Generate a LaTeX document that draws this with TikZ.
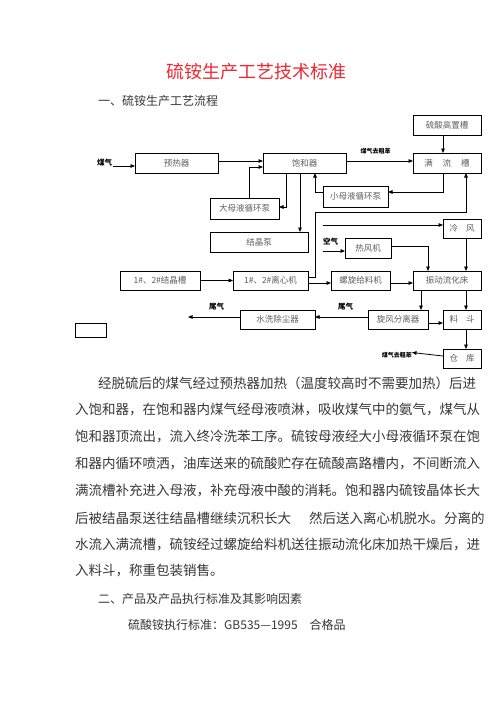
\documentclass[tikz,border=0pt]{standalone}
\usepackage{fontspec}
\setmainfont{Liberation Serif}
\newfontfamily\cjk{Noto Sans CJK SC}
\usetikzlibrary{arrows.meta}
\definecolor{titlered}{RGB}{240,40,50}
\definecolor{boxtext}{RGB}{95,95,95}
\definecolor{bodytext}{RGB}{55,55,55}
\begin{document}
\begin{tikzpicture}[x=1pt,y=-1pt,
  box/.style={draw, line width=0.8pt, inner sep=0pt, outer sep=0pt, text=boxtext, font=\cjk\fontsize{8.5}{10}\selectfont},
  arr/.style={line width=0.8pt, -{Triangle[length=4.5pt,width=3.6pt]}},
  lab/.style={inner sep=0pt, font=\cjk\bfseries\fontsize{7.5}{9}\selectfont},
  labs/.style={inner sep=0pt, font=\cjk\bfseries\fontsize{6}{7}\selectfont},
  body/.style={anchor=west, inner sep=0pt, text=bodytext, font=\cjk\fontsize{13.5}{16}\selectfont},
  head/.style={anchor=west, inner sep=0pt, text=bodytext, font=\cjk\fontsize{12}{14}\selectfont}]
\fill[white] (0,0) rectangle (496,702);
\path[use as bounding box] (0,0) rectangle (496,702);

% title and heading
\node[inner sep=0pt, text=titlered, font=\cjk\fontsize{18}{20}\selectfont] (title) at (256.5,72) {硫铵生产工艺技术标准};
\node[head] (h1) at (98,101) {一、硫铵生产工艺流程};

% boxes
\node[box, minimum width=68pt, minimum height=20pt] (gaozhi) at (447,125) {硫酸高置槽};
\node[box, minimum width=68pt, minimum height=20pt] (manliu) at (447,163) {满\hspace{10pt}流\hspace{10pt}槽};
\node[box, minimum width=83pt, minimum height=20pt] (baohe) at (304.5,163) {饱和器};
\node[box, minimum width=83pt, minimum height=20pt] (yure) at (176.5,163) {预热器};
\node[box, minimum width=69pt, minimum height=21pt] (damu) at (244.5,208.5) {大母液循环泵};
\node[box, minimum width=98pt, minimum height=20pt] (jingbeng) at (259,242) {结晶泵};
\node[box, minimum width=65pt, minimum height=21pt] (xiaomu) at (355.5,196.5) {小母液循环泵};
\node[box, minimum width=38pt, minimum height=19pt] (lengfeng) at (462,228.5) {冷\hspace{8pt}风};
\node[box, minimum width=46pt, minimum height=20pt] (refeng) at (368,248) {热风机};
\node[box, minimum width=80pt, minimum height=19pt] (jjc) at (160,280.5) {1\#、2\#结晶槽};
\node[box, minimum width=75pt, minimum height=19pt] (lxj) at (270.5,280.5) {1\#、2\#离心机};
\node[box, minimum width=59pt, minimum height=19pt] (lx) at (360.5,280.5) {螺旋给料机};
\node[box, minimum width=68pt, minimum height=19pt] (zd) at (447,280.5) {振动流化床};
\node[box, minimum width=75pt, minimum height=19pt] (sx) at (277.5,319.5) {水洗除尘器};
\node[box, minimum width=60pt, minimum height=19pt] (xf) at (398,319.5) {旋风分离器};
\node[box, minimum width=38pt, minimum height=19pt] (ld) at (462,319.5) {料\hspace{8pt}斗};
\node[box, minimum width=38pt, minimum height=19pt] (ck) at (462,358.5) {仓\hspace{8pt}库};
\node[box, minimum width=31pt, minimum height=14pt] (empty) at (90.5,330) {};

% labels
\node[lab] (mq) at (104.5,163) {煤气};
\node[labs] (mqc1) at (375.5,151) {煤气去粗苯};
\node[lab] (kq) at (330.5,242) {空气};
\node[lab] (wq1) at (345.5,307) {尾气};
\node[lab] (wq2) at (216.5,307) {尾气};
\node[labs, anchor=east] (mqc2) at (412,355) {煤气去粗苯};

% free ends
\coordinate (mqend) at (113,166);
\coordinate (lf0) at (323,225);
\coordinate (kq0) at (323,251);
\coordinate (wqend) at (188,317);
\coordinate (up1) at (315,212);

% connectors
\draw[arr] (mqend) -- ([yshift=-3pt]yure.west);
\draw[arr] ([yshift=2pt]yure.east) -- ([yshift=2pt]baohe.west);
\draw[arr] ([xshift=4.5pt]damu.north) |- ([yshift=-4pt]baohe.west);
\draw[arr] ([xshift=-18.5pt]baohe.south) |- ([yshift=1.5pt]damu.east);
\draw[arr] ([xshift=-4.5pt]baohe.south) coordinate (t1) -- (t1 |- jingbeng.north);
\draw[arr] ([yshift=4.5pt]xiaomu.west) -| ([xshift=10.5pt]baohe.south);
\draw[arr] ([xshift=-4pt]manliu.south) |- ([yshift=4.5pt]xiaomu.east);
\draw[arr] ([xshift=-4pt]gaozhi.south) -- ([xshift=-4pt]manliu.north);
\draw[arr] ([yshift=2pt]baohe.east) -- ([yshift=2pt]manliu.west);
\draw[arr] ([yshift=3.5pt]lxj.east) -| (up1) -| ([xshift=19pt]manliu.south);
\draw[arr] (lf0) -- (lf0 -| lengfeng.west);
\draw[arr] (kq0) -- (kq0 -| refeng.west);
\draw[arr] ([yshift=2pt]refeng.east) -| ([xshift=-19pt]zd.north);
\draw[arr] ([xshift=4pt]lengfeng.south) -- ([xshift=19pt]zd.north);
\draw[arr] (jjc.east) -- (lxj.west);
\draw[arr] ([yshift=-2.5pt]lxj.east) -- ([yshift=-2.5pt]lx.west);
\draw[arr] ([yshift=-2.5pt]lx.east) -- ([yshift=-2.5pt]zd.west);
\draw[arr] ([xshift=-26pt]zd.south) coordinate (t2) -- (t2 |- xf.north);
\draw[arr] ([xshift=19pt]zd.south) -- ([xshift=4pt]ld.north);
\draw[arr] ([yshift=-3.5pt]xf.east) -- ([yshift=-3.5pt]ld.west);
\draw[arr] ([yshift=2.5pt]xf.west) -- ([yshift=2.5pt]sx.east);
\draw[arr] ([yshift=2.5pt]sx.west) -- (wqend);
\draw[arr] ([xshift=4pt]ld.south) -- ([xshift=4pt]ck.north);
\draw[arr] ([yshift=2.5pt]ck.west) -- ([yshift=2.5pt]mqc2.east);

% body text
\node[body] (p1) at (98,383) {经脱硫后的煤气经过预热器加热（温度较高时不需要加热）后进};
\node[body] (p2) at (75,410) {入饱和器，在饱和器内煤气经母液喷淋，吸收煤气中的氨气，煤气从};
\node[body] (p3) at (75,437) {饱和器顶流出，流入终冷洗苯工序。硫铵母液经大小母液循环泵在饱};
\node[body] (p4) at (75,464) {和器内循环喷洒，油库送来的硫酸贮存在硫酸高路槽内，不间断流入};
\node[body] (p5) at (75,491) {满流槽补充进入母液，补充母液中酸的消耗。饱和器内硫铵晶体长大};
\node[body] (p6) at (75,518) {后被结晶泵送往结晶槽继续沉积长大\hspace{18pt}然后送入离心机脱水。分离的};
\node[body] (p7) at (75,545) {水流入满流槽，硫铵经过螺旋给料机送往振动流化床加热干燥后，进};
\node[body] (p8) at (75,571) {入料斗，称重包装销售。};
\node[head] (h2) at (98,599) {二、产品及产品执行标准及其影响因素};
\node[head] (std) at (128,625) {硫酸铵执行标准：GB535—1995\hspace{12pt}合格品};
\end{tikzpicture}
\end{document}
